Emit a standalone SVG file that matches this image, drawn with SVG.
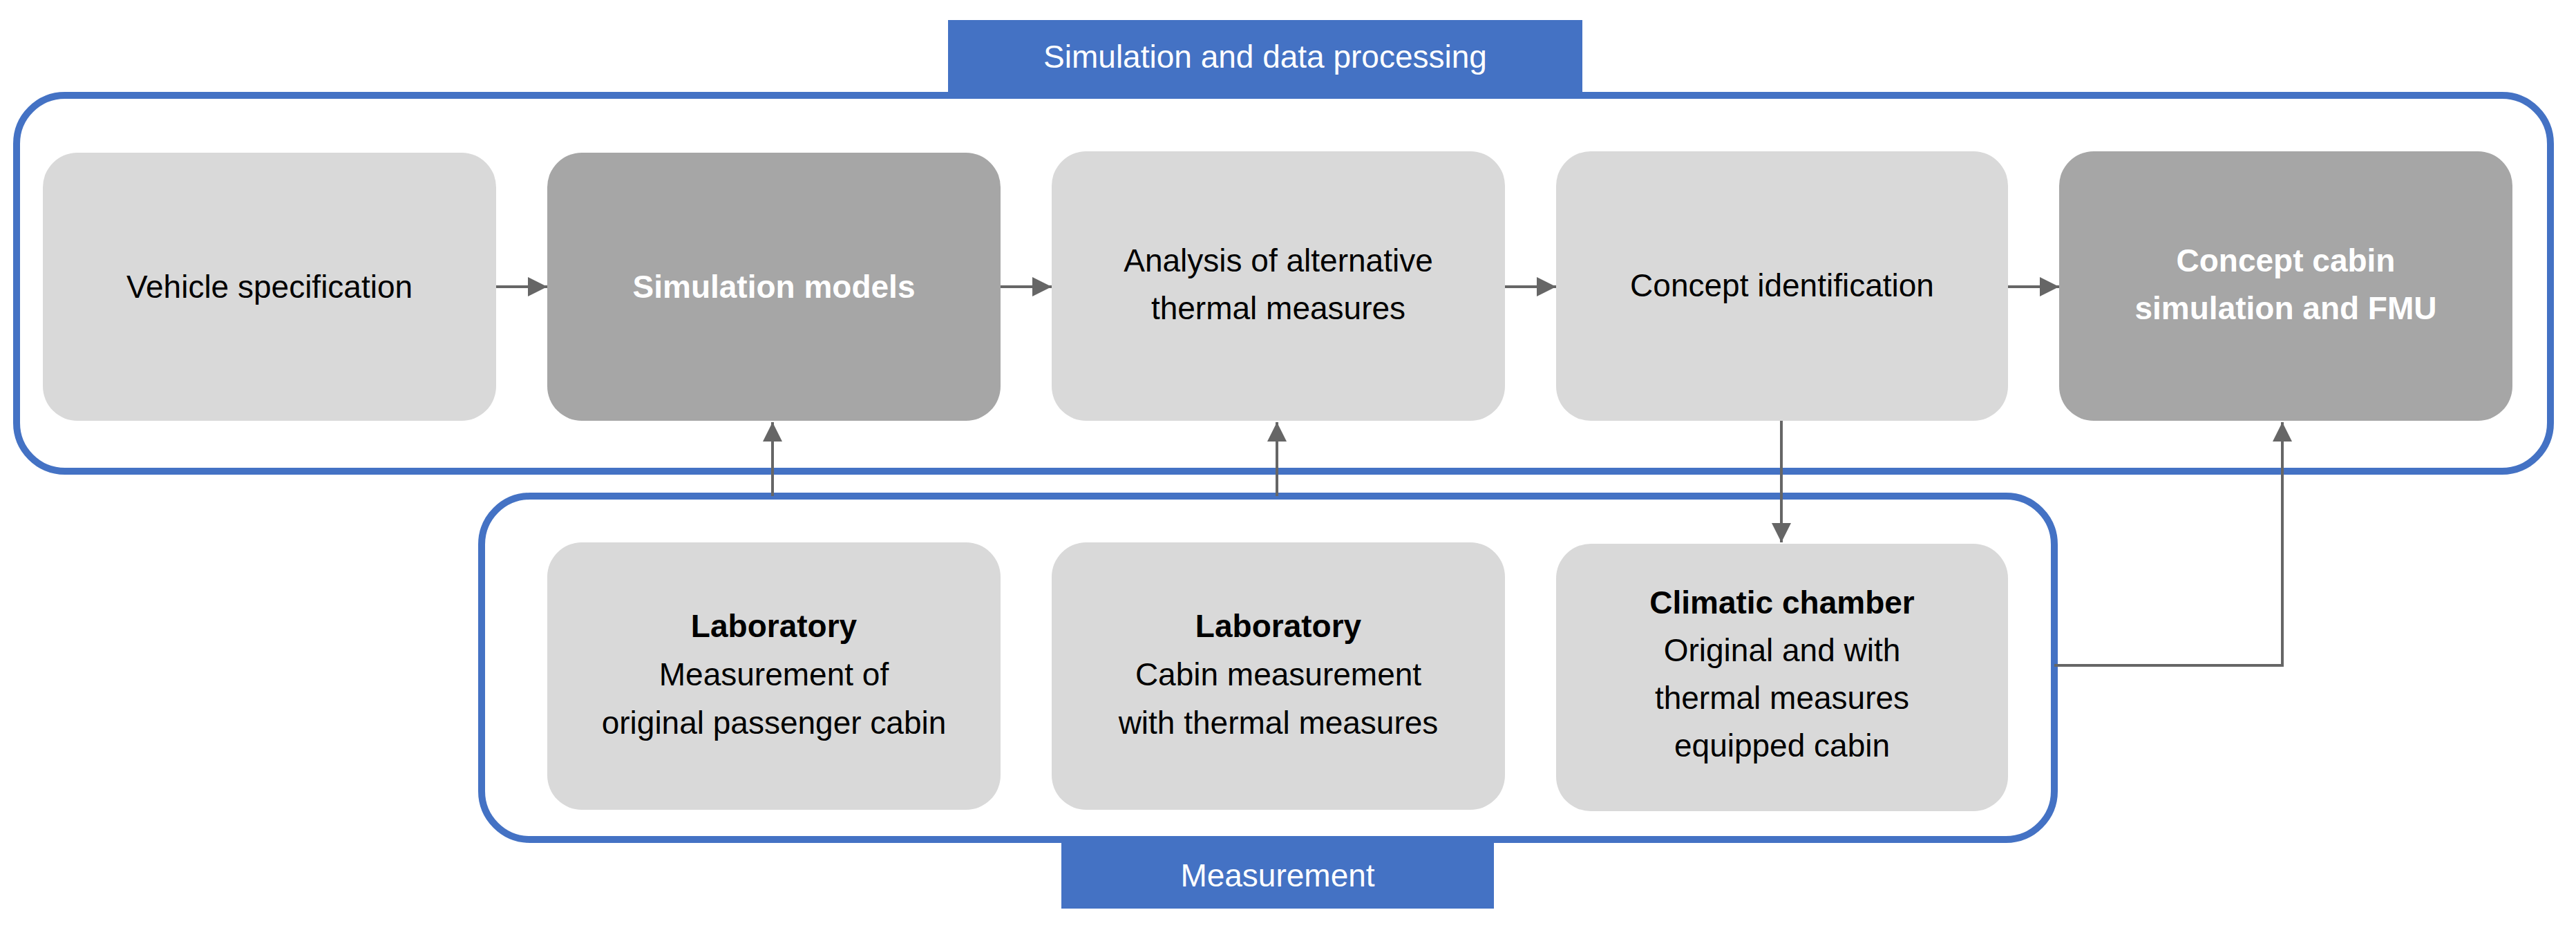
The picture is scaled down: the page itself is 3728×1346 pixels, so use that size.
<svg xmlns="http://www.w3.org/2000/svg" width="3728" height="1346" viewBox="0 0 3728 1346">
<style>
text{font-family:"Liberation Sans",Arial,sans-serif;font-size:46px;text-anchor:middle;fill:#000}
.l{fill:#d9d9d9}.d{fill:#a6a6a6}
.w{fill:#fff;font-weight:bold}.b{font-weight:bold}
.frame{fill:none;stroke:#4472c4;stroke-width:10}
.tag{fill:#4472c4}.tt{fill:#fff}
.c{fill:none;stroke:#666;stroke-width:4}
</style>
<defs><marker id="a" viewBox="0 0 10 10" refX="10" refY="5" markerWidth="5" markerHeight="5" markerUnits="userSpaceOnUse" orient="auto"><path d="M0,0L10,5L0,10z" fill="#666"/></marker>
<marker id="h" viewBox="0 0 10 10" refX="10" refY="5" markerWidth="7" markerHeight="7" orient="auto" markerUnits="strokeWidth"><path d="M0,0L10,5L0,10z" fill="#666"/></marker></defs>
<g id="frame-sim"><rect class="frame" x="24" y="138" width="3667" height="544" rx="70"/><rect class="tag" x="1372" y="29" width="918" height="106"/><text class="tt" x="1831" y="98">Simulation and data processing</text></g>
<g id="frame-meas"><rect class="frame" x="697" y="718" width="2276" height="497" rx="70"/><rect class="tag" x="1536" y="1220" width="626" height="95"/><text class="tt" x="1849" y="1283">Measurement</text></g>
<g id="n1"><rect class="l" x="62" y="221" width="656" height="388" rx="50"/><text x="390" y="431">Vehicle specification</text></g>
<g id="n2"><rect class="d" x="792" y="221" width="656" height="388" rx="50"/><text class="w" x="1120" y="431">Simulation models</text></g>
<g id="n3"><rect class="l" x="1522" y="219" width="656" height="390" rx="50"/><text x="1850" y="393">Analysis of alternative</text><text x="1850" y="462">thermal measures</text></g>
<g id="n4"><rect class="l" x="2252" y="219" width="654" height="390" rx="50"/><text x="2579" y="429">Concept identification</text></g>
<g id="n5"><rect class="d" x="2980" y="219" width="656" height="390" rx="50"/><text class="w" x="3308" y="393">Concept cabin</text><text class="w" x="3308" y="462">simulation and FMU</text></g>
<g id="m1"><rect class="l" x="792" y="785" width="656" height="387" rx="50"/><text class="b" x="1120" y="922">Laboratory</text><text x="1120" y="992">Measurement of</text><text x="1120" y="1062">original passenger cabin</text></g>
<g id="m2"><rect class="l" x="1522" y="785" width="656" height="387" rx="50"/><text class="b" x="1850" y="922">Laboratory</text><text x="1850" y="992">Cabin measurement</text><text x="1850" y="1062">with thermal measures</text></g>
<g id="m3"><rect class="l" x="2252" y="787" width="654" height="387" rx="50"/><text class="b" x="2579" y="888">Climatic chamber</text><text x="2579" y="957">Original and with</text><text x="2579" y="1026">thermal measures</text><text x="2579" y="1095">equipped cabin</text></g>
<g id="connectors">
<path class="c" d="M718 415H792" stroke-width="5" marker-end="url(#h)"/>
<path class="c" d="M1448 415H1522" stroke-width="5" marker-end="url(#h)"/>
<path class="c" d="M2178 415H2252" stroke-width="5" marker-end="url(#h)"/>
<path class="c" d="M2906 415H2980" stroke-width="5" marker-end="url(#h)"/>
<path class="c" d="M1118 718V611" marker-end="url(#h)"/>
<path class="c" d="M1848 718V611" marker-end="url(#h)"/>
<path class="c" d="M2578 609V785" marker-end="url(#h)"/>
<path class="c" d="M2973 963H3303V611" marker-end="url(#h)"/>
</g>
</svg>
